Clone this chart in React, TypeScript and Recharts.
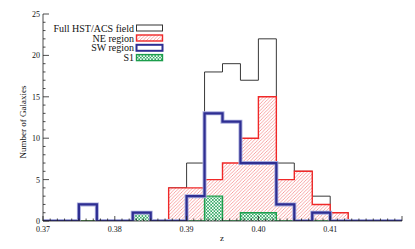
import React from 'react';
import { ComposedChart, Area, XAxis, YAxis } from 'recharts';

// bin edges in redshift z (bin width 0.0025)
const binEdges = [
  0.37, 0.3725, 0.375, 0.3775, 0.38, 0.3825, 0.385, 0.3875, 0.39, 0.3925,
  0.395, 0.3975, 0.4, 0.4025, 0.405, 0.4075, 0.41, 0.4125, 0.415, 0.4175, 0.42,
];
// counts per bin (20 bins)
const fullCounts = [0, 0, 2, 0, 0, 1, 0, 4, 7, 18, 19, 17, 22, 7, 6, 3, 1, 0, 0, 0];
const neCounts = [0, 0, 0, 0, 0, 0, 0, 4, 4, 5, 7, 10, 15, 5, 6, 2, 1, 0, 0, 0];
const swCounts = [0, 0, 2, 0, 0, 1, 0, 0, 3, 13, 12, 7, 7, 2, 0, 1, 0, 0, 0, 0];
const s1Counts = [0, 0, 0, 0, 0, 1, 0, 0, 0, 3, 0, 1, 1, 0, 0, 0, 0, 0, 0, 0];

const seriesNames = ['Full HST/ACS field', 'NE region', 'SW region', 'S1'];

const xMajorTicks = [0.37, 0.38, 0.39, 0.4, 0.41, 0.42];
const xTickLabels = ['0.37', '0.38', '0.39', '0.40', '0.41', ''];
const yMajorTicks = [0, 5, 10, 15, 20, 25];
const yTickLabels = ['0', '5', '10', '15', '20', '25'];

const xMinorTicks = Array.from({ length: 51 }, (_, i) => Math.round(370 + i) / 1000);
const yMinorTicks = Array.from({ length: 26 }, (_, i) => i);

const rows = binEdges.map((z, i) => ({
  z,
  full: i < fullCounts.length ? fullCounts[i] : 0,
  ne: i < neCounts.length ? neCounts[i] : 0,
  sw: i < swCounts.length ? swCounts[i] : 0,
  s1: i < s1Counts.length ? s1Counts[i] : 0,
}));

const PL = 43;
const PR = 402;
const PT = 14;
const PB = 221;
const FONT = '"Liberation Serif", "Times New Roman", serif';
const AXIS = '#222';

const RED = '#f02828';
const BLUE = '#2e2e92';
const GREEN = '#1c9e4c';

const majorIdx = (v: number, majors: number[]) =>
  majors.findIndex((m) => Math.abs(m - v) < 1e-7);

const BottomTick = (props: any) => {
  const { x, payload } = props;
  const idx = majorIdx(payload.value, xMajorTicks);
  const major = idx >= 0;
  return (
    <g>
      <line x1={x} x2={x} y1={PB} y2={PB - (major ? 5 : 2.5)} stroke={AXIS} strokeWidth={0.8} />
      {major && xTickLabels[idx] ? (
        <text x={x} y={PB + 11} textAnchor="middle" fontSize={8} fontFamily={FONT} fill="#111">
          {xTickLabels[idx]}
        </text>
      ) : null}
    </g>
  );
};

const TopTick = (props: any) => {
  const { x, payload } = props;
  const major = majorIdx(payload.value, xMajorTicks) >= 0;
  return <line x1={x} x2={x} y1={PT} y2={PT + (major ? 5 : 2.5)} stroke={AXIS} strokeWidth={0.8} />;
};

const LeftTick = (props: any) => {
  const { y, payload } = props;
  const idx = majorIdx(payload.value, yMajorTicks);
  const major = idx >= 0;
  return (
    <g>
      <line x1={PL} x2={PL + (major ? 6 : 2.5)} y1={y} y2={y} stroke={AXIS} strokeWidth={0.8} />
      {major ? (
        <text x={PL - 3} y={y + 3} textAnchor="end" fontSize={8} fontFamily={FONT} fill="#111">
          {yTickLabels[idx]}
        </text>
      ) : null}
    </g>
  );
};

const RightTick = (props: any) => {
  const { y, payload } = props;
  const major = majorIdx(payload.value, yMajorTicks) >= 0;
  return <line x1={PR} x2={PR - (major ? 6 : 2.5)} y1={y} y2={y} stroke={AXIS} strokeWidth={0.8} />;
};

const legendRows = [
  { name: seriesNames[0], stroke: '#333', fill: '#fff', sw: 1 },
  { name: seriesNames[1], stroke: RED, fill: 'url(#hatchRed)', sw: 1.4 },
  { name: seriesNames[2], stroke: BLUE, fill: '#fff', sw: 2 },
  { name: seriesNames[3], stroke: GREEN, fill: 'url(#crossGreen)', sw: 1.4 },
];
const legendY = [28, 38, 47.8, 57.6];

export default function App() {
  return (
    <div style={{ position: 'absolute', left: 0, top: 0, width: 415, height: 249, background: '#fff' }}>
      <ComposedChart
        width={415}
        height={249}
        data={rows}
        margin={{ top: PT, right: 415 - PR, bottom: 0, left: 0 }}
      >
        <defs>
          <pattern id="hatchRed" patternUnits="userSpaceOnUse" width="3.4" height="3.4">
            <rect width="3.4" height="3.4" fill="#ffffff" />
            <path d="M-0.85,0.85 L0.85,-0.85 M0,3.4 L3.4,0 M2.55,4.25 L4.25,2.55" stroke="#f47c7c" strokeWidth="0.7" />
          </pattern>
          <pattern id="crossGreen" patternUnits="userSpaceOnUse" width="3.2" height="3.2">
            <rect width="3.2" height="3.2" fill="#ffffff" />
            <path d="M0,0 L3.2,3.2 M3.2,0 L0,3.2" stroke="#30a862" strokeWidth="0.8" />
          </pattern>
        </defs>
        <XAxis
          xAxisId="b"
          dataKey="z"
          type="number"
          domain={[0.37, 0.42]}
          ticks={xMinorTicks}
          interval={0}
          tick={BottomTick}
          tickLine={false}
          axisLine={{ stroke: AXIS, strokeWidth: 0.8 }}
          height={28}
          allowDataOverflow
        />
        <XAxis
          xAxisId="t"
          orientation="top"
          dataKey="z"
          type="number"
          domain={[0.37, 0.42]}
          ticks={xMinorTicks}
          interval={0}
          tick={TopTick}
          tickLine={false}
          axisLine={{ stroke: AXIS, strokeWidth: 0.8 }}
          height={0}
          allowDataOverflow
        />
        <YAxis
          yAxisId="l"
          type="number"
          domain={[0, 25]}
          ticks={yMinorTicks}
          interval={0}
          tick={LeftTick}
          tickLine={false}
          axisLine={{ stroke: AXIS, strokeWidth: 0.8 }}
          width={PL}
          allowDataOverflow
        />
        <YAxis
          yAxisId="r"
          orientation="right"
          type="number"
          domain={[0, 25]}
          ticks={yMinorTicks}
          interval={0}
          tick={RightTick}
          tickLine={false}
          axisLine={{ stroke: AXIS, strokeWidth: 0.8 }}
          width={0}
          allowDataOverflow
        />
        <Area
          xAxisId="b"
          yAxisId="l"
          type="stepAfter"
          dataKey="full"
          name={seriesNames[0]}
          stroke="#222"
          strokeWidth={0.9}
          fill="none"
          isAnimationActive={false}
          dot={false}
          activeDot={false}
        />
        <Area
          xAxisId="b"
          yAxisId="l"
          type="stepAfter"
          dataKey="ne"
          name={seriesNames[1]}
          stroke={RED}
          strokeWidth={1.4}
          fill="url(#hatchRed)"
          fillOpacity={1}
          isAnimationActive={false}
          dot={false}
          activeDot={false}
        />
        <Area
          xAxisId="b"
          yAxisId="l"
          type="stepAfter"
          dataKey="s1"
          name={seriesNames[3]}
          stroke={GREEN}
          strokeWidth={1.4}
          fill="url(#crossGreen)"
          fillOpacity={1}
          isAnimationActive={false}
          dot={false}
          activeDot={false}
        />
        <Area
          xAxisId="b"
          yAxisId="l"
          type="stepAfter"
          dataKey="sw"
          name={seriesNames[2] + ' halo'}
          stroke="#a9acdc"
          strokeWidth={4}
          fill="none"
          isAnimationActive={false}
          dot={false}
          activeDot={false}
        />
        <Area
          xAxisId="b"
          yAxisId="l"
          type="stepAfter"
          dataKey="sw"
          name={seriesNames[2]}
          stroke={BLUE}
          strokeWidth={2.2}
          fill="none"
          isAnimationActive={false}
          dot={false}
          activeDot={false}
        />
        <g>
          {legendRows.map((r, i) => (
            <g key={r.name}>
              <text
                x={134}
                y={legendY[i] + 3.5}
                textAnchor="end"
                fontSize={10}
                fontFamily={FONT}
                fill="#111"
              >
                {r.name}
              </text>
              <rect
                x={136.5}
                y={legendY[i] - 3}
                width={26}
                height={6}
                fill={r.fill}
                stroke={r.stroke}
                strokeWidth={r.sw}
              />
            </g>
          ))}
          <text
            transform="translate(26,122) rotate(-90)"
            textAnchor="middle"
            fontSize={9}
            fontFamily={FONT}
            fill="#111"
          >
            Number of Galaxies
          </text>
          <text x={222} y={241} textAnchor="middle" fontSize={9} fontFamily={FONT} fill="#111">
            z
          </text>
        </g>
      </ComposedChart>
    </div>
  );
}
